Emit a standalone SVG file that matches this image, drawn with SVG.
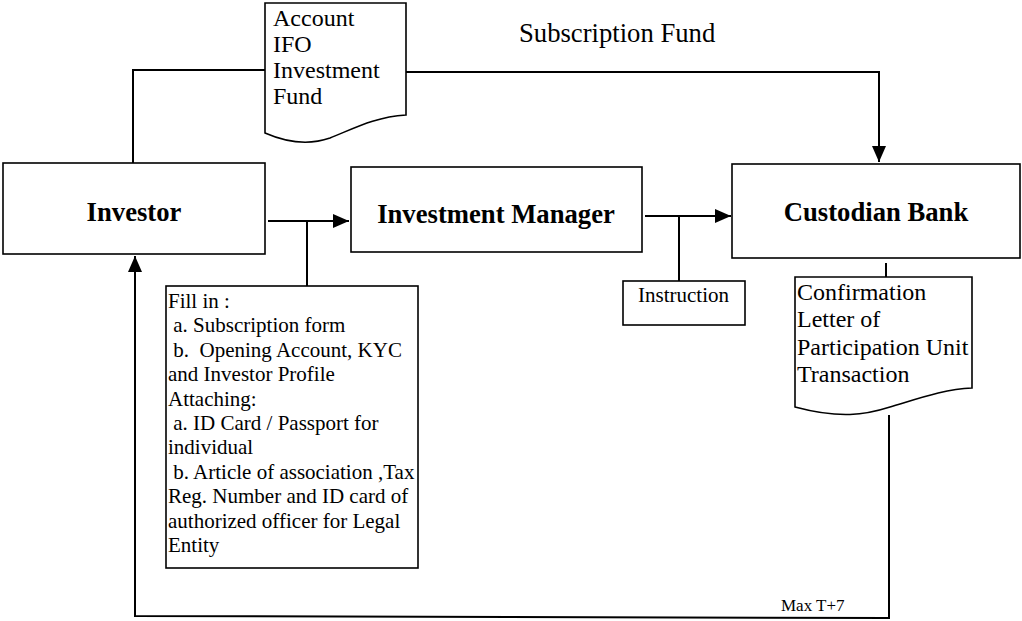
<svg xmlns="http://www.w3.org/2000/svg" width="1022" height="621" viewBox="0 0 1022 621">
  <style>
    .box { fill: #fff; stroke: #000; stroke-width: 1.6; }
    .conn { fill: none; stroke: #000; stroke-width: 2; }
    .t { font-family: "Liberation Serif", "Times New Roman", serif; fill: #000; white-space: pre; }
    .title { font-size: 26.67px; font-weight: bold; text-anchor: middle; }
    .doc { font-size: 24px; }
    .small { font-size: 21px; }
  </style>
  <defs>
    <marker id="arr" markerUnits="userSpaceOnUse" markerWidth="16" markerHeight="14" refX="16" refY="7" orient="auto">
      <path d="M0,0 L16,7 L0,14 z" fill="#000"/>
    </marker>
  </defs>
  <rect width="1022" height="621" fill="#fff"/>

  <g id="connectors">
    <path class="conn" d="M133,163 V70 H265"/>
    <path class="conn" d="M406,72 H879 V162" marker-end="url(#arr)"/>
    <path class="conn" d="M268,221 H349" marker-end="url(#arr)"/>
    <path class="conn" d="M307,221 V286"/>
    <path class="conn" d="M645,216 H731" marker-end="url(#arr)"/>
    <path class="conn" d="M679,216 V281"/>
    <path class="conn" d="M886,263 V277"/>
    <path class="conn" d="M889,415 V618 L135,616 V256" marker-end="url(#arr)"/>
  </g>

  <g id="investor">
    <rect class="box" x="3" y="163" width="262" height="91"/>
    <text class="t title" x="134" y="221">Investor</text>
  </g>

  <g id="investment-manager">
    <rect class="box" x="351" y="167" width="291" height="85"/>
    <text class="t title" x="496" y="223">Investment Manager</text>
  </g>

  <g id="custodian-bank">
    <rect class="box" x="732" y="164" width="288" height="94"/>
    <text class="t title" x="876" y="221">Custodian Bank</text>
  </g>

  <g id="account-doc">
    <path class="box" d="M265,3 H406 V115 C375,117 355,128 330,138 C310,145 288,143 265,133 Z"/>
    <text class="t doc" x="273" y="26">Account</text>
    <text class="t doc" x="273" y="52">IFO</text>
    <text class="t doc" x="273" y="78">Investment</text>
    <text class="t doc" x="273" y="104">Fund</text>
  </g>

  <g id="subscription-fund-label">
    <text class="t" style="font-size:26.67px" x="519" y="42">Subscription Fund</text>
  </g>

  <g id="fill-in">
    <rect class="box" x="166" y="286" width="252" height="282"/>
    <text class="t small" x="168" y="308">Fill in :</text>
    <text class="t small" x="168" y="332.4"> a. Subscription form</text>
    <text class="t small" x="168" y="356.8"> b.  Opening Account, KYC</text>
    <text class="t small" x="168" y="381.2">and Investor Profile</text>
    <text class="t small" x="168" y="405.6">Attaching:</text>
    <text class="t small" x="168" y="430"> a. ID Card / Passport for</text>
    <text class="t small" x="168" y="454.4">individual</text>
    <text class="t small" x="168" y="478.8"> b. Article of association ,Tax</text>
    <text class="t small" x="168" y="503.2">Reg. Number and ID card of</text>
    <text class="t small" x="168" y="527.6">authorized officer for Legal</text>
    <text class="t small" x="168" y="552">Entity</text>
  </g>

  <g id="instruction">
    <rect class="box" x="623" y="281" width="122" height="44"/>
    <text class="t small" x="638" y="302">Instruction</text>
  </g>

  <g id="confirmation-doc">
    <path class="box" d="M795,277 H972 V388 C945,389 920,398 890,407 C865,415 840,419 795,407 Z"/>
    <text class="t doc" x="797" y="300">Confirmation</text>
    <text class="t doc" x="797" y="327.3">Letter of</text>
    <text class="t doc" x="797" y="354.6">Participation Unit</text>
    <text class="t doc" x="797" y="382">Transaction</text>
  </g>

  <g id="max-label">
    <text class="t" style="font-size:17px" x="781" y="611">Max T+7</text>
  </g>
</svg>
